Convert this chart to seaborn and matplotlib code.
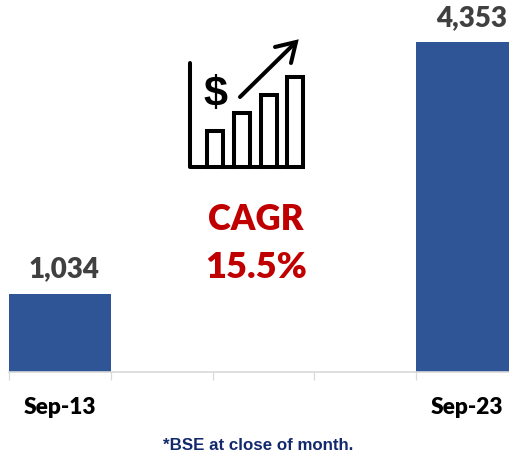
import numpy as np
import matplotlib
matplotlib.use('Agg')
import matplotlib.pyplot as plt
import seaborn as sns

months = ['Sep-13', 'a', 'b', 'c', 'Sep-23']
tick_text = ['Sep-13', '', '', '', 'Sep-23']
values = [1034, np.nan, np.nan, np.nan, 4353]
value_text = ['1,034', '', '', '', '4,353']

W, H = 509, 453
fig = plt.figure(figsize=(W / 100, H / 100), dpi=100)
ax = fig.add_axes([9 / W, (H - 372) / H, 509 / W, 372 / H])
sns.barplot(x=months, y=values, color='#2f5597', saturation=1, width=1, ax=ax)
ax.set_xlim(-0.5, 4.5)
ax.set_ylim(0, 4914)
ax.set_yticks([])
for s in ['top', 'left', 'right']:
    ax.spines[s].set_visible(False)
ax.spines['bottom'].set_color('#d9d9d9')
ax.spines['bottom'].set_linewidth(1.2)

# ticks sit on the category edges, labels in the middle
ax.set_xticks(range(5))
ax.set_xticklabels(tick_text, fontfamily='Lato', fontweight='heavy', fontsize=16.3, color='black')
ax.tick_params(axis='x', which='major', length=0, pad=18)
ax.set_xticks(np.arange(-0.5, 4.6, 1), minor=True)
ax.tick_params(axis='x', which='minor', length=6, width=0.9, color='#d9d9d9')

for i, v in enumerate(values):
    if not np.isnan(v):
        ax.annotate(value_text[i], (i, v), xytext=(3, 8.5), textcoords='offset points', ha='center',
                    va='bottom', fontfamily='Lato', fontweight='heavy', fontsize=20, color='#404040',
                    annotation_clip=False)

# overlay in pixels for the icon and the text
ov = fig.add_axes([0, 0, 1, 1])
ov.set_xlim(0, W)
ov.set_ylim(H, 0)
ov.axis('off')
ov.patch.set_alpha(0)

lw = 2.9
ov.plot([190.5, 190.5, 303], [63, 167, 167], color='black', lw=lw, solid_capstyle='round', solid_joinstyle='round')
for x0, x1, top in [(207, 223, 131), (234, 250, 113), (261, 277, 95), (287, 303, 77)]:
    ov.plot([x0, x0, x1, x1], [167, top, top, 167], color='black', lw=lw, solid_joinstyle='miter')
ov.plot([240, 295], [97, 43], color='black', lw=lw, solid_capstyle='round')
ov.plot([275, 296, 291], [47, 42, 63], color='black', lw=lw, solid_capstyle='round', solid_joinstyle='miter')
ov.text(215, 95, '$', ha='center', va='center', fontfamily='Liberation Sans', fontweight='bold',
        fontsize=31, color='black')

ov.text(256, 220, 'CAGR', ha='center', va='center', fontfamily='Lato', fontweight='heavy', fontsize=25, color='#c00000')
ov.text(256.5, 267, '15.5%', ha='center', va='center', fontfamily='Lato', fontweight='heavy', fontsize=26, color='#c00000')
ov.text(258.5, 445.5, '*BSE at close of month.', ha='center', va='center', fontfamily='Liberation Sans',
        fontweight='bold', fontsize=12.2, color='#12296b')

fig.savefig('out.png', dpi=100)
